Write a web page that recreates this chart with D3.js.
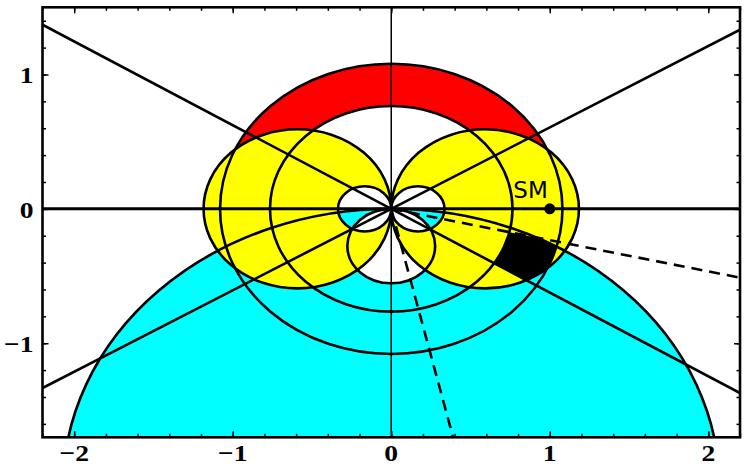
<!DOCTYPE html>
<html>
<head>
<meta charset="utf-8">
<script src="https://cdn.jsdelivr.net/npm/d3@7"></script>
<style>
body{margin:0;background:#fff;}
</style>
</head>
<body>
<div id="plot"></div>
<script>
var xDomain = [-2.2, 2.2];
var yDomain = [-1.7, 1.5];
var xMajor = [-2, -1, 0, 1, 2];
var yMajor = [-1, 0, 1];
// DeltaM_s bound, annulus round the origin (red)
var dmRadii = [0.765, 1.08];
// |DeltaGamma|/DeltaM bound (yellow): [centre x, radius], circles touching the imaginary axis
var dgOuter = [[-0.592, 0.592], [0.592, 0.592]];
var dgInner = [[-0.168, 0.168], [0.168, 0.168]];
// a_fs bound (cyan): [centre y, radius], circles touching the real axis
var afsOuter = [-2.07, 2.07];
var afsInner = [-0.277, 0.277];
// phi_s from DeltaGamma, slopes of the solid lines through 0
var phiSlopes = [0, -0.623, 0.606];
// phi_s from the angular analysis, end points of the dashed rays
var psiPhiRays = [[2.2, -0.512], [0.39, -1.7]];
var smPoint = [1, 0];
var smLabel = "SM";

var width = 747, height = 466;
var fLeft = 42.5, fRight = 740, fTop = 7.3, fBottom = 437.3;

var svg = d3.select("#plot").append("svg")
	.attr("width", width)
	.attr("height", height)
	.style("display", "block");

var x = d3.scaleLinear().domain(xDomain).range([fLeft, fRight]);
var y = d3.scaleLinear().domain(yDomain).range([fBottom, fTop]);

function circlePath(cx, cy, r){
	var px = x(cx), py = y(cy);
	var rx = x(cx + r) - px, ry = py - y(cy + r);
	return "M" + (px - rx) + "," + py +
		"A" + rx + "," + ry + " 0 1 0 " + (px + rx) + "," + py +
		"A" + rx + "," + ry + " 0 1 0 " + (px - rx) + "," + py + "Z";
}
function poly(pts){
	return "M" + pts.map(function(p){ return x(p[0]) + "," + y(p[1]); }).join("L") + "Z";
}

var defs = svg.append("defs");
defs.append("clipPath").attr("id", "area")
	.append("rect")
	.attr("x", fLeft).attr("y", fTop)
	.attr("width", fRight - fLeft).attr("height", fBottom - fTop);

var annulusD = circlePath(0, 0, dmRadii[1]) + circlePath(0, 0, dmRadii[0]);
var afsD = circlePath(0, afsOuter[0], afsOuter[1]) + circlePath(0, afsInner[0], afsInner[1]);
var dgD = dgOuter.map(function(c){ return circlePath(c[0], 0, c[1]); }).join("") +
	dgInner.map(function(c){ return circlePath(c[0], 0, c[1]); }).join("");

// clips for the overlap of all bounds (black)
defs.append("clipPath").attr("id", "cAnn").append("path")
	.attr("d", annulusD).attr("clip-rule", "evenodd");
defs.append("clipPath").attr("id", "cAfs").append("path")
	.attr("d", afsD).attr("clip-rule", "evenodd");
defs.append("clipPath").attr("id", "cDg").append("path")
	.attr("d", dgD).attr("clip-rule", "evenodd");
defs.append("clipPath").attr("id", "cPhi").append("path")
	.attr("d", poly([[0, 0], [4, 0], [4, 4 * phiSlopes[1]]]));
defs.append("clipPath").attr("id", "cPsi").append("path")
	.attr("d", poly([[0, 0], [psiPhiRays[0][0] * 2, psiPhiRays[0][1] * 2], [psiPhiRays[1][0] * 2, psiPhiRays[1][1] * 2]]));

var plot = svg.append("g").attr("clip-path", "url(#area)");

plot.append("path").attr("d", annulusD)
	.attr("fill", "#ff0000").attr("fill-rule", "evenodd");
plot.append("path").attr("d", afsD)
	.attr("fill", "#00ffff").attr("fill-rule", "evenodd");
plot.append("path").attr("d", dgD)
	.attr("fill", "#ffff00").attr("fill-rule", "evenodd");

plot.append("g").attr("clip-path", "url(#cAnn)")
	.append("g").attr("clip-path", "url(#cAfs)")
	.append("g").attr("clip-path", "url(#cDg)")
	.append("g").attr("clip-path", "url(#cPhi)")
	.append("g").attr("clip-path", "url(#cPsi)")
	.append("rect")
	.attr("x", fLeft).attr("y", fTop)
	.attr("width", fRight - fLeft).attr("height", fBottom - fTop)
	.attr("fill", "black");

// outlines
var rings = [];
dmRadii.forEach(function(r){ rings.push([0, 0, r]); });
dgOuter.concat(dgInner).forEach(function(c){ rings.push([c[0], 0, c[1]]); });
rings.push([0, afsOuter[0], afsOuter[1]]);
rings.push([0, afsInner[0], afsInner[1]]);

plot.selectAll(".ring")
	.data(rings)
	.enter().append("path")
	.attr("class", "ring")
	.attr("d", function(d){ return circlePath(d[0], d[1], d[2]); })
	.attr("fill", "none")
	.attr("stroke", "black")
	.attr("stroke-width", 2.6);

plot.selectAll(".phi")
	.data(phiSlopes)
	.enter().append("line")
	.attr("class", "phi")
	.attr("x1", x(xDomain[0])).attr("y1", function(m){ return y(m * xDomain[0]); })
	.attr("x2", x(xDomain[1])).attr("y2", function(m){ return y(m * xDomain[1]); })
	.attr("stroke", "black")
	.attr("stroke-width", function(m, i){ return i == 0 ? 3 : 2.6; });

plot.selectAll(".psi")
	.data(psiPhiRays)
	.enter().append("line")
	.attr("class", "psi")
	.attr("x1", x(0)).attr("y1", y(0))
	.attr("x2", function(d){ return x(d[0]); })
	.attr("y2", function(d){ return y(d[1]); })
	.attr("stroke", "black")
	.attr("stroke-width", 2.6)
	.attr("stroke-dasharray", "11,7");

plot.append("line")
	.attr("x1", x(0)).attr("x2", x(0))
	.attr("y1", fTop).attr("y2", fBottom)
	.attr("stroke", "black")
	.attr("stroke-width", 1.5);

plot.append("circle")
	.attr("cx", x(smPoint[0])).attr("cy", y(smPoint[1]))
	.attr("r", 5.5)
	.attr("fill", "black");
svg.append("text")
	.attr("x", x(smPoint[0]) - 2)
	.attr("y", y(smPoint[1]) - 10.5)
	.attr("text-anchor", "end")
	.attr("font-family", "DejaVu Sans")
	.attr("font-size", 23)
	.text(smLabel);

// frame with inward ticks on all four sides
var xMinor = x.ticks(22), yMinor = y.ticks(16);
function addAxis(axis, tx, ty, vals, size){
	var g = svg.append("g")
		.attr("transform", "translate(" + tx + "," + ty + ")")
		.call(axis.tickValues(vals).tickSize(-size).tickSizeOuter(0).tickFormat(""));
	g.select(".domain").remove();
	g.selectAll("line").attr("stroke-width", 1.5);
}
addAxis(d3.axisBottom(x), 0, fBottom, xMinor, 3.5);
addAxis(d3.axisBottom(x), 0, fBottom, xMajor, 6);
addAxis(d3.axisTop(x), 0, fTop, xMinor, 3.5);
addAxis(d3.axisTop(x), 0, fTop, xMajor, 6);
addAxis(d3.axisLeft(y), fLeft, 0, yMinor, 3.5);
addAxis(d3.axisLeft(y), fLeft, 0, yMajor, 6);
addAxis(d3.axisRight(y), fRight, 0, yMinor, 3.5);
addAxis(d3.axisRight(y), fRight, 0, yMajor, 6);

svg.append("rect")
	.attr("x", fLeft).attr("y", fTop)
	.attr("width", fRight - fLeft).attr("height", fBottom - fTop)
	.attr("fill", "none")
	.attr("stroke", "black")
	.attr("stroke-width", 2.6);

var fmt = function(v){ return v < 0 ? "\u2212" + Math.abs(v) : "" + v; };
svg.selectAll(".xlab")
	.data(xMajor)
	.enter().append("text")
	.attr("class", "xlab")
	.attr("transform", function(d){ return "translate(" + x(d) + ",461) scale(1.15,1)"; })
	.attr("text-anchor", "middle")
	.attr("font-family", "Liberation Serif")
	.attr("font-weight", "bold")
	.attr("font-size", 24)
	.text(fmt);
svg.selectAll(".ylab")
	.data(yMajor)
	.enter().append("text")
	.attr("class", "ylab")
	.attr("transform", function(d){ return "translate(33.5," + (y(d) + 9) + ") scale(1.15,1)"; })
	.attr("text-anchor", "end")
	.attr("font-family", "Liberation Serif")
	.attr("font-weight", "bold")
	.attr("font-size", 24)
	.text(fmt);
</script>
</body>
</html>
